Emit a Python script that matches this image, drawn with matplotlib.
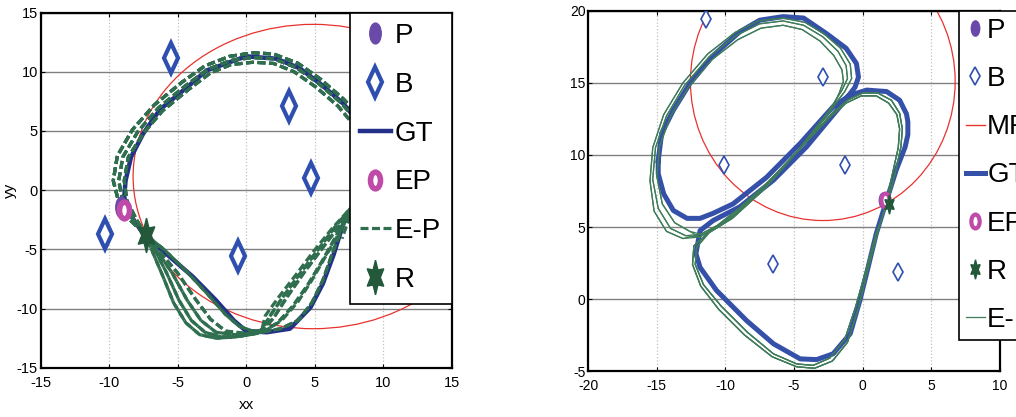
import matplotlib
matplotlib.use('Agg')
import matplotlib.pyplot as plt
from matplotlib.lines import Line2D
from matplotlib.markers import MarkerStyle
from matplotlib.patches import Ellipse, Circle
from matplotlib.transforms import Affine2D

plt.rcParams['font.family'] = ['Liberation Sans']
plt.rcParams['axes.unicode_minus'] = False

# ---------------- left panel data ----------------
gt1_x = [0.0, -2.9, -4.3, -6.3, -7.5, -8.4, -8.8, -8.9, -8.5, -7.5, -5.8, -3.9, -2.2, -0.9, 0.0,
         1.5, 3.2, 4.7, 5.6, 6.4, 7.1, 7.8, 8.6, 8.9, 8.9, 8.3, 7.1, 5.4, 3.9, 2.2, 0.0]
gt1_y = [11.3, 10.1, 8.7, 6.8, 4.8, 2.8, 0.8, -0.6, -2.0, -3.7, -5.4, -7.3, -9.3, -11.0, -11.9,
         -12.0, -11.7, -9.9, -7.9, -5.4, -2.8, -1.4, 0.3, 2.5, 4.2, 5.6, 7.3, 9.0, 10.3, 11.1, 11.3]

# E-P upper arcs (right side -> over the top -> robot start)
ep1_top_outer = [(7.8, -1.3), (8.8, 0.6), (9.2, 2.6), (9.1, 4.5), (8.4, 6.1), (7.1, 7.7), (5.4, 9.4),
                 (3.8, 10.7), (2.0, 11.5), (0.5, 11.6), (-1.2, 11.3), (-3.0, 10.5), (-4.7, 9.1),
                 (-6.7, 7.2), (-8.3, 5.1), (-9.4, 2.9), (-9.7, 0.8), (-9.3, -1.0), (-8.4, -2.6), (-7.3, -3.8)]
ep1_top_mid = [(7.8, -1.3), (8.6, 0.55), (8.95, 2.55), (8.8, 4.3), (8.1, 5.85), (6.9, 7.4), (5.25, 9.05),
               (3.65, 10.35), (2.0, 11.1), (0.5, 11.2), (-1.15, 10.95), (-2.8, 10.2), (-4.45, 8.8),
               (-6.4, 6.95), (-7.9, 4.95), (-9.0, 2.8), (-9.3, 0.8), (-9.0, -0.95), (-8.2, -2.55), (-7.3, -3.8)]
ep1_top_inner = [(7.8, -1.3), (8.4, 0.5), (8.7, 2.5), (8.5, 4.1), (7.8, 5.6), (6.7, 7.1), (5.1, 8.7),
                 (3.5, 10.0), (2.0, 10.7), (0.5, 10.8), (-1.1, 10.6), (-2.6, 9.9), (-4.2, 8.5),
                 (-6.1, 6.7), (-7.5, 4.8), (-8.6, 2.8), (-8.9, 0.8), (-8.7, -0.9), (-8.0, -2.5), (-7.3, -3.8)]
# lower-left arcs (robot start -> bottom)
ep1_bl_outer2 = [(-6.8, -5.3), (-6.1, -7.2), (-5.3, -9.5), (-4.4, -11.2), (-3.4, -12.2), (-2.2, -12.5),
                 (-0.8, -12.4), (0.8, -12.1)]
ep1_bl_outer = [(-6.6, -5.2), (-5.8, -7.0), (-4.9, -9.3), (-4.0, -11.0), (-3.0, -12.0), (-1.8, -12.4),
                (-0.3, -12.3), (1.0, -12.0)]
ep1_bl_mid2 = [(-6.45, -5.2), (-5.4, -7.0), (-4.3, -9.3), (-3.3, -11.0), (-2.2, -12.0), (-0.8, -12.2),
               (1.1, -12.0)]
ep1_bl_mid = [(-6.3, -5.2), (-5.0, -7.0), (-3.7, -9.2), (-2.6, -10.9), (-1.5, -11.9), (0.0, -12.1), (1.2, -11.9)]
ep1_bl_inner = [(-6.0, -5.0), (-4.4, -6.8), (-2.8, -8.8), (-1.5, -10.5), (-0.5, -11.5), (0.5, -11.9), (1.5, -11.8)]
# lower-right arcs (bottom -> right side)
ep1_br_outer = [(2.5, -11.7), (3.8, -11.0), (4.8, -9.5), (5.6, -7.6), (6.3, -5.3), (7.0, -3.2), (7.8, -1.3)]
ep1_br_mid = [(2.6, -11.0), (3.8, -9.4), (4.8, -7.6), (5.8, -5.6), (6.9, -3.4), (7.8, -1.3)]
ep1_br_mid2 = [(2.3, -11.2), (3.4, -9.8), (4.5, -8.0), (5.6, -5.9), (6.7, -3.6), (7.8, -1.3)]
ep1_br_inner = [(2.0, -10.8), (3.0, -9.0), (4.2, -7.0), (5.5, -5.0), (6.8, -3.0), (7.8, -1.3)]
ep1_br_inner2 = [(1.7, -10.7), (2.7, -9.0), (3.9, -7.1), (5.2, -5.1), (6.5, -3.1), (7.8, -1.3)]
ep1_br_innermost = [(1.4, -10.6), (2.4, -9.0), (3.6, -7.2), (4.9, -5.2), (6.3, -3.2), (7.8, -1.3)]
ep1_tail = [(7.8, -1.3), (7.4, -2.8), (7.0, -4.1)]

b1_x = [-5.5, 3.1, 4.7, -10.3, -0.6, 8.6]
b1_y = [11.2, 7.1, 1.0, -3.7, -5.6, -6.2]
p1 = (-9.1, -1.4)
epnt1 = (-8.9, -1.7)
r1 = (-7.3, -3.8)
ell1_center = (4.9, 1.15)
ell1_size = (26.3, 25.7)

# ---------------- right panel data ----------------
gt2_x = [-14.9, -14.65, -13.8, -12.6, -10.9, -8.95, -7.5, -5.8, -4.3, -2.6, -1.2, -0.45, -0.3, -0.55,
         -1.65, -4.1, -6.5, -8.95, -10.9, -11.85, -12.15, -11.85, -10.65, -8.45, -6.5, -4.55, -3.35,
         -2.15, -0.9, -0.2, 0.4, 1.0, 1.75, 2.45, 3.1, 3.3, 3.3, 3.2, 2.7, 1.75, 0.3, -0.9, -2.15,
         -4.55, -7.0, -9.45, -10.9, -11.85, -12.8, -13.8, -14.5, -14.9, -14.9]
gt2_y = [9.6, 11.5, 13.1, 14.95, 16.9, 18.55, 19.35, 19.6, 19.5, 18.4, 17.4, 16.35, 15.4, 14.7,
         13.35, 10.55, 8.25, 6.4, 5.45, 4.75, 3.15, 2.2, 0.6, -1.5, -3.1, -4.15, -4.2,
         -3.8, -2.4, -0.1, 2.2, 4.55, 6.85, 8.95, 10.55, 11.4, 12.3, 12.85, 13.8, 14.4, 14.5, 14.15, 13.35,
         10.8, 8.45, 6.6, 5.95, 5.6, 5.6, 6.15, 7.3, 8.7, 9.6]

# E-P: lower loop right side + top + first diagonal
ep2_a1 = [(1.8, 6.6), (2.4, 8.8), (2.8, 10.6), (2.9, 11.8), (2.7, 12.9), (2.1, 13.8), (1.1, 14.3),
          (0.0, 14.3), (-1.1, 13.8), (-2.3, 12.8), (-4.6, 10.4), (-7.0, 8.0), (-9.0, 6.3),
          (-10.6, 5.1), (-11.8, 4.5)]
ep2_a2 = [(1.7, 6.6), (2.2, 8.8), (2.6, 10.5), (2.7, 11.8), (2.5, 12.8), (1.9, 13.6), (1.0, 14.1),
          (-0.1, 14.1), (-1.2, 13.6), (-2.4, 12.6), (-4.8, 10.2), (-7.2, 7.8), (-9.2, 6.0),
          (-10.8, 4.9), (-11.9, 4.3)]
# E-P: upper loop
ep2_b1 = [(-12.9, 4.4), (-14.0, 4.9), (-14.9, 6.3), (-15.3, 8.3), (-15.1, 10.5), (-14.3, 12.7),
          (-13.0, 14.8), (-11.2, 16.8), (-9.2, 18.3), (-7.5, 19.1), (-5.8, 19.3), (-4.3, 19.0),
          (-2.9, 18.2), (-1.8, 17.2), (-1.2, 16.2), (-1.1, 15.3), (-1.5, 14.5)]
ep2_b2 = [(-12.6, 4.7), (-13.7, 5.3), (-14.6, 6.6), (-15.0, 8.5), (-14.8, 10.6), (-14.0, 12.7),
          (-12.7, 14.7), (-11.0, 16.6), (-9.1, 18.0), (-7.4, 18.8), (-5.8, 19.0), (-4.4, 18.7),
          (-3.1, 17.9), (-2.1, 16.9), (-1.5, 15.9), (-1.4, 15.1), (-1.7, 14.3)]
ep2_b3 = [(-13.1, 4.2), (-14.3, 4.7), (-15.2, 6.1), (-15.5, 8.2), (-15.3, 10.5), (-14.5, 12.8),
          (-13.1, 15.0), (-11.3, 17.0), (-9.3, 18.5), (-7.6, 19.3), (-5.8, 19.5), (-4.2, 19.2),
          (-2.8, 18.4), (-1.6, 17.4), (-0.9, 16.3), (-0.8, 15.3), (-1.3, 14.4)]
# E-P: second diagonal + lower loop
ep2_c1 = [(-2.5, 13.0), (-4.8, 10.2), (-7.2, 7.6), (-9.5, 5.6), (-11.2, 4.6), (-12.1, 3.6), (-12.2, 2.4),
          (-11.6, 1.0), (-10.3, -0.5), (-8.4, -2.3), (-6.5, -3.8), (-4.8, -4.5), (-3.6, -4.6),
          (-2.4, -4.1), (-1.3, -2.8), (-0.5, -0.5), (0.3, 2.2), (1.0, 4.6), (1.8, 6.6)]
ep2_c2 = [(-2.3, 13.1), (-4.6, 10.4), (-7.0, 7.8), (-9.3, 5.8), (-11.0, 4.8), (-12.3, 3.7), (-12.4, 2.4),
          (-11.8, 0.9), (-10.5, -0.7), (-8.6, -2.5), (-6.6, -4.0), (-4.8, -4.7), (-3.5, -4.8),
          (-2.2, -4.3), (-1.1, -3.0), (-0.3, -0.6), (0.4, 2.1), (1.1, 4.6), (1.7, 6.6)]

b2_x = [-11.4, -2.9, -10.1, -1.3, -6.5, 2.6]
b2_y = [19.4, 15.4, 9.3, 9.3, 2.4, 1.9]
p2 = (1.5, 6.9)
epnt2 = (1.6, 6.9)
r2 = (1.9, 6.6)
mr_center = (-2.9, 15.1)
mr_radius = 9.65

# colours
navy = '#23308a'
blue2 = '#3550a8'
green = '#2f6e4e'
green2 = '#3f7c5a'
red = '#e8322e'
purple = '#6a4aa8'
magenta = '#c04aa8'
star_green = '#23583b'
beacon = '#2e4fb0'


def squeezed(m, sx):
    return MarkerStyle(m, transform=Affine2D().scale(sx, 1.0))


def xy(points):
    return [p[0] for p in points], [p[1] for p in points]


def style_axes(ax, xt, yt, size):
    ax.set_xticks(xt)
    ax.set_yticks(yt)
    ax.yaxis.grid(True, color='#808080', lw=1.0)
    ax.xaxis.grid(True, color='#c0c0c0', lw=0.9, ls=':')
    ax.set_axisbelow(True)
    ax.tick_params(direction='in', top=True, right=True, length=3, width=0.8, labelsize=size)
    ax.tick_params(axis='x', pad=6)
    ax.tick_params(axis='y', pad=2)
    for s in ax.spines.values():
        s.set_linewidth(1.6)


fig = plt.figure(figsize=(10.16, 4.17), dpi=100)

# ---------------- left ----------------
ax1 = fig.add_axes([0.040, 0.118, 0.4045, 0.852])
ax1.add_patch(Ellipse(ell1_center, ell1_size[0], ell1_size[1], fill=False, ec=red, lw=0.9, zorder=2))
h_gt1, = ax1.plot(gt1_x, gt1_y, color=navy, lw=3.2, zorder=3, label='GT')
loops1 = [
    ep1_top_outer + ep1_bl_outer + ep1_br_outer,
    ep1_top_mid + ep1_bl_mid + ep1_br_mid2,
    ep1_top_inner + ep1_bl_inner + ep1_br_mid,
    ep1_top_outer + ep1_bl_outer2 + ep1_br_inner,
    ep1_top_mid + ep1_bl_mid2 + ep1_br_innermost,
    ep1_top_inner + ep1_bl_outer + ep1_br_inner2,
    ep1_top_outer + ep1_bl_inner + ep1_br_mid2,
    ep1_top_mid + ep1_bl_mid + ep1_br_inner,
    ep1_top_inner + ep1_bl_outer2 + ep1_br_outer,
    ep1_top_outer + ep1_bl_mid2 + ep1_br_inner2,
]
for lp in loops1:
    lx, ly = xy(lp)
    h_ep1, = ax1.plot(lx, ly, color=green, lw=2.3, ls=(0, (2.5, 1.1)), zorder=4, label='E-P')
tx, ty = xy(ep1_tail)
ax1.plot(tx, ty, color=green, lw=2.2, ls=(0, (2.5, 1.1)), zorder=4)
h_b1, = ax1.plot(b1_x, b1_y, ls='none', marker=squeezed('d', 0.75), ms=15, mfc='white', mec=beacon,
                 mew=3.0, zorder=5, label='B')
h_p1, = ax1.plot([p1[0]], [p1[1]], ls='none', marker=squeezed('o', 0.55), ms=15, color=purple,
                 zorder=6, label='P')
h_ep1p, = ax1.plot([epnt1[0]], [epnt1[1]], ls='none', marker=squeezed('o', 0.6), ms=12, mfc='white',
                   mec=magenta, mew=4, zorder=6, label='EP')
h_r1, = ax1.plot([r1[0]], [r1[1]], ls='none', marker=squeezed((6, 1, 0), 0.55), ms=25, color=star_green,
                 zorder=7, label='R')
ax1.set_xlim(-15, 15)
ax1.set_ylim(-15, 15)
style_axes(ax1, range(-15, 16, 5), range(-15, 16, 5), 10.5)
ax1.set_xlabel('xx', fontsize=11, labelpad=6)
ax1.set_ylabel('yy', fontsize=11, labelpad=0)
leg1 = ax1.legend(handles=[h_p1, h_b1, h_gt1, h_ep1p, h_ep1, h_r1], loc='upper right',
                  bbox_to_anchor=(1.0, 1.0), borderaxespad=0, fontsize=20, handlelength=1.1,
                  handletextpad=0.15, labelspacing=0.82, borderpad=0.38, fancybox=False,
                  framealpha=1, edgecolor='black')
leg1.get_frame().set_linewidth(1.2)

# ---------------- right ----------------
ax2 = fig.add_axes([0.579, 0.110, 0.405, 0.864])
ax2.add_patch(Circle(mr_center, mr_radius, fill=False, ec=red, lw=0.9, zorder=2))
h_mr = Line2D([], [], color=red, lw=1.0, label='MR')
h_gt2, = ax2.plot(gt2_x, gt2_y, color=blue2, lw=3.6, zorder=3, label='GT')
loops2 = [
    ep2_a1 + ep2_b1 + ep2_c1,
    ep2_a2 + ep2_b2 + ep2_c2,
    ep2_a1 + ep2_b3 + ep2_c2,
    ep2_a2 + ep2_b1 + ep2_c1,
    ep2_a1 + ep2_b2 + ep2_c2,
    ep2_a2 + ep2_b3 + ep2_c1,
]
for lp in loops2:
    lx, ly = xy(lp)
    h_ep2, = ax2.plot(lx, ly, color=green2, lw=0.9, zorder=4, label='E-P')
h_b2, = ax2.plot(b2_x, b2_y, ls='none', marker=squeezed('d', 0.85), ms=9, mfc='white', mec=beacon,
                 mew=1.2, zorder=5, label='B')
h_p2, = ax2.plot([p2[0]], [p2[1]], ls='none', marker=squeezed('o', 0.55), ms=11, color=purple,
                 zorder=6, label='P')
h_ep2p, = ax2.plot([epnt2[0]], [epnt2[1]], ls='none', marker=squeezed('o', 0.6), ms=10, mfc='white',
                   mec=magenta, mew=3, zorder=6, label='EP')
h_r2, = ax2.plot([r2[0]], [r2[1]], ls='none', marker=squeezed((6, 1, 0), 0.55), ms=14, color=star_green,
                 zorder=7, label='R')
ax2.set_xlim(-20, 10)
ax2.set_ylim(-5, 20)
style_axes(ax2, range(-20, 11, 5), range(-5, 21, 5), 10)
leg2 = ax2.legend(handles=[h_p2, h_b2, h_mr, h_gt2, h_ep2p, h_r2, h_ep2], loc='upper left',
                  bbox_to_anchor=(0.9, 1.0), borderaxespad=0, fontsize=20, handlelength=0.7,
                  handletextpad=0.08, labelspacing=0.8, borderpad=0.25, fancybox=False,
                  framealpha=1, edgecolor='black')
leg2.get_frame().set_linewidth(1.2)

fig.savefig('out.png', dpi=100)
